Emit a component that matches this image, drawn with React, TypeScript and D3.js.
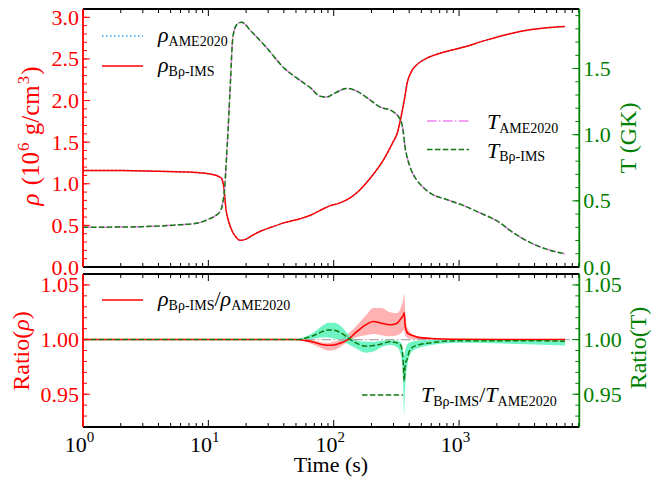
import React from "react";
import * as d3 from "d3";

// ---------- data ----------
const timeRho = [1, 2, 4, 7, 10, 12, 12.8, 13.3, 13.8, 14.5, 15.5, 16.8, 17.9, 20, 23, 26, 32, 40, 54, 66, 78, 93, 110, 135, 160, 194, 248, 297, 320, 344, 370, 384, 421, 460, 553, 750, 1072, 1600, 2500, 3672, 5000, 7000];
const rhoBrho = [1.16, 1.16, 1.15, 1.14, 1.12, 1.09, 1.06, 0.95, 0.7, 0.55, 0.43, 0.35, 0.32, 0.335, 0.39, 0.43, 0.48, 0.53, 0.58, 0.625, 0.68, 0.735, 0.765, 0.83, 0.92, 1.06, 1.28, 1.5, 1.6, 1.8, 2.05, 2.2, 2.36, 2.43, 2.51, 2.58, 2.64, 2.72, 2.8, 2.85, 2.875, 2.89];

const timeT = [1, 3, 6, 8, 10, 11.5, 12.4, 13.0, 13.5, 14.0, 14.3, 15.0, 15.7, 16.8, 18.4, 22, 29, 39.5, 54, 66, 78, 88, 100, 127, 152, 190, 233, 297, 337, 350, 360, 369, 385, 405, 430, 458, 585, 795, 1076, 1460, 1990, 2700, 3672, 4980, 7000];
const tempBrho = [0.3, 0.305, 0.32, 0.33, 0.36, 0.39, 0.42, 0.48, 0.6, 0.85, 1.0, 1.4, 1.74, 1.83, 1.85, 1.78, 1.66, 1.51, 1.41, 1.35, 1.29, 1.285, 1.31, 1.35, 1.33, 1.27, 1.21, 1.175, 1.12, 1.08, 1.01, 0.92, 0.83, 0.76, 0.7, 0.66, 0.56, 0.51, 0.466, 0.41, 0.35, 0.26, 0.186, 0.135, 0.1];

const timeRatio = [1, 10, 40, 50, 60, 70, 80, 90, 100, 115, 130, 150, 180, 207, 240, 281, 320, 345, 358, 365, 372, 385, 400, 420, 470, 600, 1000, 3000, 7000];
const rhoRatio = [1, 1, 1, 1, 0.999, 0.9975, 0.9955, 0.9948, 0.995, 0.997, 1.0, 1.0065, 1.0135, 1.0165, 1.015, 1.0135, 1.015, 1.0195, 1.022, 1.0245, 1.012, 1.0065, 1.005, 1.004, 1.002, 1.001, 1.0003, 1.0, 1.0];
const rhoRatioHi = [1, 1, 1, 1, 1.0, 0.999, 0.9975, 0.997, 0.998, 1.0, 1.005, 1.012, 1.022, 1.029, 1.029, 1.025, 1.024, 1.03, 1.037, 1.042, 1.025, 1.012, 1.008, 1.005, 1.003, 1.0015, 1.0005, 1.0, 1.0];
const rhoRatioLo = [1, 1, 1, 1, 0.998, 0.995, 0.992, 0.99, 0.9905, 0.994, 0.9985, 1.002, 1.004, 1.005, 1.004, 1.003, 1.004, 1.006, 1.008, 1.009, 1.004, 1.002, 1.001, 1.0005, 1.0, 1.0, 1.0, 1.0, 1.0];
const tRatio = [1, 1, 1, 1, 1.0015, 1.004, 1.007, 1.0088, 1.0085, 1.006, 1.0015, 0.997, 0.994, 0.9945, 0.996, 0.998, 0.997, 0.994, 0.98, 0.962, 0.978, 0.982, 0.989, 0.9925, 0.995, 0.997, 0.999, 0.999, 0.9985];
const tRatioHi = [1, 1, 1, 1, 1.003, 1.007, 1.012, 1.0155, 1.0155, 1.012, 1.005, 0.9995, 0.998, 0.998, 0.999, 0.9995, 0.999, 0.997, 0.99, 0.985, 0.99, 0.995, 0.997, 0.998, 0.999, 0.9995, 1.0, 1.0, 1.0];
const tRatioLo = [1, 1, 1, 1, 1.0, 1.001, 1.002, 1.002, 1.001, 0.999, 0.996, 0.992, 0.988, 0.989, 0.993, 0.995, 0.993, 0.985, 0.96, 0.93, 0.958, 0.975, 0.984, 0.989, 0.992, 0.995, 0.997, 0.996, 0.9945];

const xTickExps = [0, 1, 2, 3];
const rhoTicks = ["0.0", "0.5", "1.0", "1.5", "2.0", "2.5", "3.0"];
const tTicks = ["0.0", "0.5", "1.0", "1.5"];
const ratioTicks = ["0.95", "1.00", "1.05"];

// ---------- layout ----------
const W = 661, H = 483;
const xL = 83, xR = 579.3;
const top1 = 9, bot1 = 267, top2 = 274, bot2 = 427;
const FONT = "\"Liberation Serif\", Times, \"Nimbus Roman\", serif";
const RED = "#ff0000";
const GREEN = "#117a11";
const LGREEN = "#008000";

const x = d3.scaleLog().domain([1, 9100]).range([xL, xR]);
const yRho = d3.scaleLinear().domain([0, 3.1]).range([bot1, top1]);
const yT = d3.scaleLinear().domain([0, 1.95]).range([bot1, top1]);
const yR = d3.scaleLinear().domain([0.92, 1.06]).range([bot2, top2]);

const zip = (a: number[], b: number[]) => a.map((v, i) => [v, b[i]] as [number, number]);

function linePath(ts: number[], vs: number[], ys: d3.ScaleLinear<number, number>) {
  return d3.line<[number, number]>().x(d => x(d[0])).y(d => ys(d[1])).curve(d3.curveMonotoneX)(zip(ts, vs)) || "";
}
function areaPath(ts: number[], lo: number[], hi: number[], ys: d3.ScaleLinear<number, number>) {
  const data = ts.map((t, i) => [t, lo[i], hi[i]]);
  return d3.area<number[]>().x(d => x(d[0])).y0(d => ys(d[1])).y1(d => ys(d[2])).curve(d3.curveMonotoneX)(data) || "";
}

const xMajors = xTickExps.map(e => Math.pow(10, e));
const xMinors: number[] = [];
for (let e = 0; e <= 3; e++) for (let m = 2; m <= 9; m++) { const v = m * Math.pow(10, e); if (v <= 9100) xMinors.push(v); }

const range = (a: number, b: number, s: number) => { const out: number[] = []; for (let v = a; v <= b + 1e-9; v += s) out.push(+v.toFixed(4)); return out; };

function XTicks({ yTop, yBot }: { yTop: number; yBot: number }) {
  return (
    <g stroke="#000" strokeWidth={1}>
      {xMajors.map(v => <line key={"a" + v} x1={x(v)} x2={x(v)} y1={yBot} y2={yBot - 7} />)}
      {xMajors.map(v => <line key={"b" + v} x1={x(v)} x2={x(v)} y1={yTop} y2={yTop + 7} />)}
      {xMinors.map(v => <line key={"c" + v} x1={x(v)} x2={x(v)} y1={yBot} y2={yBot - 4} />)}
      {xMinors.map(v => <line key={"d" + v} x1={x(v)} x2={x(v)} y1={yTop} y2={yTop + 4} />)}
    </g>
  );
}

function YTicks({ scale, majors, minors, side, color }: { scale: d3.ScaleLinear<number, number>; majors: number[]; minors: number[]; side: "l" | "r"; color: string }) {
  const x0 = side === "l" ? xL : xR;
  const dir = side === "l" ? 1 : -1;
  return (
    <g stroke={color} strokeWidth={1}>
      {majors.map(v => <line key={"M" + v} x1={x0} x2={x0 + dir * 7} y1={scale(v)} y2={scale(v)} />)}
      {minors.map(v => <line key={"m" + v} x1={x0} x2={x0 + dir * 4} y1={scale(v)} y2={scale(v)} />)}
    </g>
  );
}

export default function App() {
  const rhoMin = range(0, 3.1, 0.1);
  const tMin = range(0, 1.9, 0.1);
  const rMin = range(0.92, 1.06, 0.01);
  const fs = { fontFamily: FONT };

  return (
    <div style={{ position: "absolute", left: 0, top: 0 }}>
      <svg width={W} height={H} viewBox={`0 0 ${W} ${H}`} style={{ display: "block", background: "#fff" }} fontFamily={FONT}>
        <defs>
          <clipPath id="c1"><rect x={xL} y={top1} width={xR - xL} height={bot1 - top1} /></clipPath>
          <clipPath id="c2"><rect x={xL} y={top2} width={xR - xL} height={bot2 - top2} /></clipPath>
        </defs>
        <rect x={0} y={0} width={W} height={H} fill="#fff" />

        {/* ---------- top panel curves ---------- */}
        <g clipPath="url(#c1)" fill="none">
          <path d={linePath(timeRho, rhoBrho, yRho)} stroke="#2aa4f4" strokeWidth={1.5} strokeDasharray="1.5,2.5" />
          <path d={linePath(timeRho, rhoBrho, yRho)} stroke={RED} strokeWidth={1.5} />
          <path d={linePath(timeT, tempBrho, yT)} stroke="#ee82ee" strokeWidth={1.5} strokeDasharray="9.6,2.4,1.5,2.4" />
          <path d={linePath(timeT, tempBrho, yT)} stroke={GREEN} strokeWidth={1.5} strokeDasharray="5.5,2.4" />
        </g>

        {/* ---------- bottom panel ---------- */}
        <g clipPath="url(#c2)">
          <path d={areaPath(timeRatio, rhoRatioLo, rhoRatioHi, yR)} fill="#ff0000" fillOpacity={0.3} />
          <path d={areaPath(timeRatio, tRatioLo, tRatioHi, yR)} fill="#3ff0b0" fillOpacity={0.75} />
          <line x1={xL} x2={xR} y1={yR(1)} y2={yR(1)} stroke="#aaaaaa" strokeWidth={1.2} strokeDasharray="9.6,2.4,1.5,2.4" />
          <path d={linePath(timeRatio, rhoRatio, yR)} fill="none" stroke={RED} strokeWidth={1.6} />
          <path d={linePath(timeRatio, tRatio, yR)} fill="none" stroke={GREEN} strokeWidth={1.5} strokeDasharray="5.5,2.4" />
        </g>

        {/* ---------- ticks ---------- */}
        <XTicks yTop={top1} yBot={bot1} />
        <XTicks yTop={top2} yBot={bot2} />
        <YTicks scale={yRho} majors={rhoTicks.map(Number)} minors={rhoMin} side="l" color={RED} />
        <YTicks scale={yT} majors={tTicks.map(Number)} minors={tMin} side="r" color={LGREEN} />
        <YTicks scale={yR} majors={ratioTicks.map(Number)} minors={rMin} side="l" color={RED} />
        <YTicks scale={yR} majors={ratioTicks.map(Number)} minors={rMin} side="r" color={LGREEN} />

        {/* ---------- spines ---------- */}
        <g strokeWidth={1.8} fill="none">
          <line x1={xL} x2={xR} y1={top1} y2={top1} stroke="#000" />
          <line x1={xL} x2={xR} y1={bot1} y2={bot1} stroke="#000" />
          <line x1={xL} x2={xL} y1={top1} y2={bot1} stroke={RED} />
          <line x1={xR} x2={xR} y1={top1} y2={bot1} stroke={LGREEN} />
          <line x1={xL} x2={xR} y1={top2} y2={top2} stroke="#000" />
          <line x1={xL} x2={xR} y1={bot2} y2={bot2} stroke="#000" />
          <line x1={xL} x2={xL} y1={top2} y2={bot2} stroke={RED} />
          <line x1={xR} x2={xR} y1={top2} y2={bot2} stroke={LGREEN} />
        </g>

        {/* ---------- tick labels ---------- */}
        <g fontSize={22} fill={RED} textAnchor="end">
          {rhoTicks.map(s => <text key={s} x={xL - 4} y={yRho(+s) + 7.5} style={fs}>{s}</text>)}
          {ratioTicks.map(s => <text key={s} x={xL - 4} y={yR(+s) + 7.5} style={fs}>{s}</text>)}
        </g>
        <g fontSize={22} fill={LGREEN} textAnchor="start">
          {tTicks.map(s => <text key={s} x={xR + 4} y={yT(+s) + 7.5} style={fs}>{s}</text>)}
          {ratioTicks.map(s => <text key={s} x={xR + 4} y={yR(+s) + 7.5} style={fs}>{s}</text>)}
        </g>
        <g fontSize={22} fill="#000" textAnchor="middle">
          {xTickExps.map(e => (
            <text key={e} x={x(Math.pow(10, e)) - 3.5} y={452} style={fs}>10<tspan fontSize={15} dy={-10}>{e}</tspan></text>
          ))}
        </g>

        {/* ---------- axis labels ---------- */}
        <text x={331} y={472} fontSize={22} textAnchor="middle" fill="#000" style={fs}>Time (s)</text>
        <text transform="translate(39,136) rotate(-90)" fontSize={25} textAnchor="middle" fill={RED} style={fs}>
          <tspan fontStyle="italic">ρ</tspan><tspan dx={2}> (10</tspan><tspan fontSize={17} dy={-10} dx={1}>6</tspan><tspan dy={10} dx={1}> g/cm</tspan><tspan fontSize={17} dy={-10} dx={1}>3</tspan><tspan dy={10} dx={1}>)</tspan>
        </text>
        <text transform="translate(29,351) rotate(-90)" fontSize={24} textAnchor="middle" fill={RED} style={fs}>
          Ratio(<tspan fontStyle="italic">ρ</tspan>)
        </text>
        <text transform="translate(636,138) rotate(-90)" fontSize={24} textAnchor="middle" fill={LGREEN} style={fs}>T (GK)</text>
        <text transform="translate(646,348) rotate(-90)" fontSize={24} textAnchor="middle" fill={LGREEN} style={fs}>Ratio(T)</text>

        {/* ---------- legends ---------- */}
        <g fontSize={22} fill="#000">
          <line x1={102} x2={143} y1={36} y2={36} stroke="#2aa4f4" strokeWidth={1.5} strokeDasharray="1.5,2.5" />
          <text x={158} y={42} style={fs}><tspan fontStyle="italic">ρ</tspan><tspan fontSize={14} dy={3.5}>AME2020</tspan></text>
          <line x1={102} x2={143} y1={66} y2={66} stroke={RED} strokeWidth={1.5} />
          <text x={158} y={72} style={fs}><tspan fontStyle="italic">ρ</tspan><tspan fontSize={14} dy={3.5}>Bρ-IMS</tspan></text>

          <line x1={427} x2={469} y1={121} y2={121} stroke="#ee82ee" strokeWidth={1.5} strokeDasharray="9.6,2.4,1.5,2.4" />
          <text x={487} y={129} style={fs}><tspan fontStyle="italic">T</tspan><tspan fontSize={14} dy={3.5}>AME2020</tspan></text>
          <line x1={427} x2={469} y1={149.5} y2={149.5} stroke={GREEN} strokeWidth={1.5} strokeDasharray="5.5,2.4" />
          <text x={487} y={157.5} style={fs}><tspan fontStyle="italic">T</tspan><tspan fontSize={14} dy={3.5}>Bρ-IMS</tspan></text>

          <line x1={102} x2={143} y1={300} y2={300} stroke={RED} strokeWidth={1.5} />
          <text x={158} y={306} style={fs}><tspan fontStyle="italic">ρ</tspan><tspan fontSize={14} dy={3.5}>Bρ-IMS</tspan><tspan dy={-3.5}>/</tspan><tspan fontStyle="italic">ρ</tspan><tspan fontSize={14} dy={3.5}>AME2020</tspan></text>

          <line x1={362} x2={403} y1={395} y2={395} stroke={GREEN} strokeWidth={1.5} strokeDasharray="5.5,2.4" />
          <text x={421} y={402} style={fs}><tspan fontStyle="italic">T</tspan><tspan fontSize={14} dy={3.5}>Bρ-IMS</tspan><tspan dy={-3.5}>/</tspan><tspan fontStyle="italic">T</tspan><tspan fontSize={14} dy={3.5}>AME2020</tspan></text>
        </g>
      </svg>
    </div>
  );
}
